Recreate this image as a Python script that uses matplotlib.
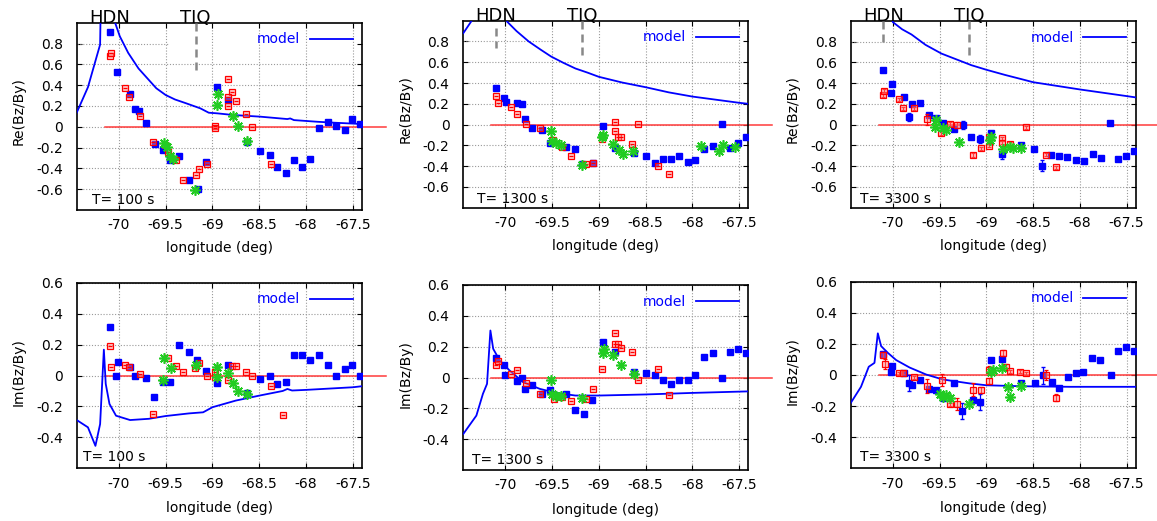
import matplotlib
matplotlib.use('Agg')
import matplotlib.pyplot as plt
from matplotlib.ticker import FuncFormatter
from matplotlib.transforms import blended_transform_factory

plt.rcParams['font.family'] = ['DejaVu Sans']
plt.rcParams['axes.unicode_minus'] = False

# ---------------- data ----------------
periods = ["T= 100 s", "T= 1300 s", "T= 3300 s"]
x_ticks = [-70, -69.5, -69, -68.5, -68, -67.5]
re_ticks = [-0.6, -0.4, -0.2, 0, 0.2, 0.4, 0.6, 0.8]
im_ticks = [-0.4, -0.2, 0, 0.2, 0.4, 0.6]
stations = ["HDN", "TIQ"]
station_lon = [-70.1, -69.18]

# Re, T = 100 s
re100_blue_lon = [-70.096, -70.018, -69.882, -69.83, -69.79, -69.71, -69.61, -69.525, -69.45, -69.36,
                  -69.25, -69.15, -69.07, -68.95, -68.83, -68.63, -68.49, -68.39, -68.31, -68.22,
                  -68.13, -68.04, -67.96, -67.86, -67.77, -67.68, -67.59, -67.51, -67.42]
re100_blue_val = [0.907, 0.531, 0.315, 0.17, 0.155, 0.039, -0.17, -0.219, -0.32, -0.283,
                  -0.515, -0.60, -0.338, 0.38, 0.257, -0.15, -0.23, -0.273, -0.386, -0.444,
                  -0.32, -0.386, -0.306, -0.01, 0.048, 0.006, -0.032, 0.071, 0.026]
re100_red_lon = [-70.096, -70.086, -69.936, -69.89, -69.775, -69.64, -69.51, -69.47, -69.39, -69.31,
                 -69.18, -69.14, -69.06, -68.97, -68.97, -68.83, -68.79, -68.83, -68.75, -68.83,
                 -68.64, -68.58, -68.37]
re100_red_val = [0.682, 0.708, 0.37, 0.29, 0.103, -0.145, -0.177, -0.24, -0.315, -0.508,
                 -0.466, -0.402, -0.354, 0.006, -0.016, 0.457, 0.338, 0.29, 0.25, 0.2,
                 0.122, 0.0, -0.354]
re100_green_lon = [-69.515, -69.49, -69.45, -69.42, -69.19, -68.94, -68.95, -68.78, -68.73, -68.63]
re100_green_val = [-0.16, -0.19, -0.28, -0.31, -0.605, 0.312, 0.21, 0.103, 0.01, -0.135]
re100_model_lon = [-70.45, -70.33, -70.2, -70.17, -70.04, -69.99, -69.9, -69.79, -69.68, -69.6, -69.5,
                   -69.4, -69.28, -69.13, -69.04, -68.95, -68.78, -68.49, -68.2, -68.17, -68.13,
                   -67.88, -67.7, -67.4]
re100_model_val = [0.135, 0.38, 0.79, 2.5, 1.0, 0.87, 0.71, 0.56, 0.45, 0.37, 0.305,
                   0.262, 0.225, 0.177, 0.135, 0.129, 0.113, 0.097, 0.074, 0.08, 0.064,
                   0.048, 0.039, 0.026]

# Re, T = 1300 s
re1300_blue_lon = [-70.096, -70.018, -69.996, -69.875, -69.82, -69.79, -69.71, -69.605, -69.527, -69.35,
                   -69.25, -69.18, -69.065, -68.95, -68.83, -68.62, -68.5, -68.4, -68.31, -68.23,
                   -68.14, -68.04, -67.97, -67.87, -67.78, -67.68, -67.6, -67.51, -67.42]
re1300_blue_val = [0.349, 0.253, 0.22, 0.211, 0.198, 0.05, -0.03, -0.053, -0.18, -0.22,
                   -0.236, -0.38, -0.368, -0.014, -0.23, -0.278, -0.30, -0.368, -0.333, -0.333,
                   -0.30, -0.358, -0.343, -0.234, -0.205, 0.005, -0.223, -0.182, -0.124]
re1300_red_lon = [-70.096, -70.08, -69.936, -69.88, -69.78, -69.634, -69.49, -69.39, -69.30, -69.135,
                  -69.06, -68.97, -68.83, -68.83, -68.79, -68.76, -68.64, -68.585, -68.37, -68.25]
re1300_red_val = [0.275, 0.21, 0.166, 0.098, 0.005, -0.037, -0.15, -0.22, -0.30, -0.38,
                  -0.368, -0.14, 0.027, -0.063, -0.124, -0.124, -0.188, 0.002, -0.397, -0.48]
re1300_green_lon = [-69.51, -69.5, -69.46, -69.40, -69.18, -68.96, -68.97, -68.85, -68.78, -68.745,
                    -68.63, -67.91, -67.71, -67.67, -67.54]
re1300_green_val = [-0.063, -0.156, -0.175, -0.198, -0.39, -0.1, -0.117, -0.188, -0.24, -0.28,
                    -0.25, -0.21, -0.25, -0.198, -0.215]
re1300_model_lon = [-70.45, -70.36, -70.16, -70.08, -69.98, -69.88, -69.75, -69.62, -69.51, -69.38,
                    -69.25, -69.12, -69.0, -68.75, -68.5, -68.25, -68.0, -67.75, -67.5, -67.4]
re1300_model_val = [0.88, 1.0, 1.6, 1.2, 0.99, 0.90, 0.80, 0.72, 0.655, 0.595,
                    0.54, 0.50, 0.46, 0.405, 0.36, 0.31, 0.27, 0.24, 0.21, 0.20]

# Re, T = 3300 s
re3300_blue_lon = [-70.1, -70.007, -70.018, -69.875, -69.83, -69.80, -69.71, -69.61, -69.54, -69.46,
                   -69.35, -69.25, -69.16, -69.07, -68.95, -68.83, -68.625, -68.49, -68.4, -68.31,
                   -68.22, -68.14, -68.04, -67.96, -67.86, -67.775, -67.68, -67.59, -67.51, -67.42]
re3300_blue_val = [0.526, 0.391, 0.308, 0.269, 0.077, 0.199, 0.212, 0.093, 0.06, 0.013,
                   -0.042, -0.003, -0.115, -0.14, -0.077, -0.285, -0.196, -0.234, -0.394, -0.29,
                   -0.298, -0.308, -0.34, -0.349, -0.282, -0.317, 0.019, -0.33, -0.298, -0.25]
re3300_blue_err = [0.015, 0.01, 0.01, 0.01, 0.04, 0.01, 0.01, 0.01, 0.01, 0.01,
                   0.01, 0.04, 0.01, 0.04, 0.01, 0.05, 0.01, 0.01, 0.05, 0.01,
                   0.01, 0.01, 0.01, 0.01, 0.01, 0.01, 0.01, 0.01, 0.01, 0.01]
re3300_red_lon = [-70.1, -70.09, -69.936, -69.89, -69.775, -69.635, -69.48, -69.39, -69.31, -69.14,
                  -69.06, -68.97, -68.97, -68.83, -68.83, -68.75, -68.58, -68.36, -68.25]
re3300_red_val = [0.285, 0.327, 0.247, 0.157, 0.157, 0.051, -0.083, 0.006, -0.003, -0.292,
                  -0.228, -0.202, -0.115, -0.131, -0.173, -0.186, -0.026, -0.29, -0.41]
re3300_red_err = [0.02, 0.02, 0.015, 0.015, 0.015, 0.05, 0.02, 0.02, 0.03, 0.02,
                  0.015, 0.015, 0.015, 0.015, 0.015, 0.015, 0.015, 0.015, 0.015]
re3300_green_lon = [-69.535, -69.55, -69.46, -69.43, -69.29, -68.965, -68.95, -68.82, -68.75, -68.71, -68.625]
re3300_green_val = [0.045, -0.02, -0.035, -0.05, -0.163, -0.147, -0.115, -0.237, -0.21, -0.228, -0.228]
re3300_model_lon = [-70.45, -70.16, -70.0, -69.9, -69.8, -69.65, -69.48, -69.32, -69.16, -69.0,
                    -68.8, -68.61, -68.5, -68.0, -67.5, -67.4]
re3300_model_val = [1.3, 2.5, 0.99, 0.92, 0.87, 0.77, 0.686, 0.63, 0.574, 0.53,
                    0.48, 0.436, 0.41, 0.34, 0.276, 0.263]

# Im, T = 100 s
im100_blue_lon = [-70.096, -70.007, -70.025, -69.88, -69.83, -69.71, -69.62, -69.525, -69.45, -69.36,
                  -69.25, -69.17, -69.07, -68.95, -68.83, -68.63, -68.49, -68.39, -68.31, -68.22,
                  -68.13, -68.04, -67.96, -67.86, -67.77, -67.68, -67.59, -67.51, -67.42]
im100_blue_val = [0.314, 0.087, 0.0, 0.058, 0.0, -0.017, -0.136, -0.043, -0.043, 0.195,
                  0.152, 0.1, 0.032, -0.05, 0.065, -0.113, -0.022, 0.0, -0.058, -0.039,
                  0.13, 0.13, 0.097, 0.13, 0.071, 0.0, 0.039, 0.071, 0.0]
im100_red_lon = [-70.096, -70.086, -69.936, -69.89, -69.775, -69.64, -69.47, -69.39, -69.31, -69.19,
                 -69.14, -69.06, -68.97, -68.97, -68.83, -68.79, -68.75, -68.64, -68.58, -68.37, -68.25]
im100_red_val = [0.188, 0.058, 0.071, 0.058, 0.011, -0.249, 0.113, 0.061, 0.022, 0.05,
                 0.08, 0.0, 0.022, -0.011, -0.032, 0.061, 0.061, 0.022, 0.0, -0.071, -0.255]
im100_green_lon = [-69.515, -69.525, -69.44, -69.18, -68.95, -68.955, -68.83, -68.78, -68.73, -68.63]
im100_green_val = [0.113, -0.032, 0.05, 0.071, 0.058, -0.011, 0.017, -0.05, -0.097, -0.119]
im100_model_lon = [-70.45, -70.33, -70.25, -70.2, -70.16, -70.14, -70.1, -70.03, -69.88, -69.68,
                   -69.5, -69.25, -69.1, -69.0, -68.75, -68.5, -68.25, -68.2, -68.15, -68.0, -67.5, -67.4]
im100_model_val = [-0.288, -0.335, -0.455, -0.314, 0.167, -0.054, -0.184, -0.26, -0.288, -0.28,
                   -0.262, -0.245, -0.238, -0.205, -0.162, -0.13, -0.1, -0.087, -0.097, -0.093, -0.076, -0.069]

# Im, T = 1300 s
im1300_blue_lon = [-70.096, -70.018, -70.0, -69.88, -69.82, -69.79, -69.71, -69.605, -69.527, -69.35,
                   -69.25, -69.155, -69.07, -68.95, -68.83, -68.62, -68.5, -68.4, -68.31, -68.23,
                   -68.14, -68.04, -67.97, -67.87, -67.78, -67.68, -67.6, -67.51, -67.42]
im1300_blue_val = [0.126, 0.082, 0.017, -0.024, -0.002, -0.074, -0.048, -0.106, -0.078, -0.11,
                   -0.21, -0.236, -0.145, 0.229, 0.165, 0.035, 0.028, 0.019, -0.013, -0.045,
                   -0.013, -0.013, 0.019, 0.132, 0.158, -0.004, 0.165, 0.182, 0.158]
im1300_red_lon = [-70.096, -70.08, -69.936, -69.88, -69.78, -69.634, -69.48, -69.39, -69.30, -69.135,
                  -69.06, -68.97, -68.83, -68.83, -68.79, -68.76, -68.64, -68.585, -68.37, -68.25]
im1300_red_val = [0.084, 0.11, 0.024, 0.05, -0.035, -0.11, -0.139, -0.128, -0.154, -0.139,
                  -0.074, 0.056, 0.288, 0.219, 0.219, 0.19, 0.165, -0.013, 0.052, -0.113]
im1300_green_lon = [-69.51, -69.5, -69.46, -69.40, -69.18, -68.96, -68.94, -68.85, -68.76, -68.62]
im1300_green_val = [-0.019, -0.11, -0.117, -0.121, -0.132, 0.158, 0.186, 0.149, 0.084, 0.024]
im1300_model_lon = [-70.45, -70.31, -70.24, -70.196, -70.16, -70.13, -70.06, -69.954, -69.81, -69.63,
                    -69.456, -69.25, -69.0, -68.5, -68.0, -67.4]
im1300_model_val = [-0.366, -0.247, -0.106, -0.041, 0.305, 0.186, 0.11, 0.045, -0.03, -0.074,
                    -0.1, -0.117, -0.117, -0.11, -0.1, -0.09]

# Im, T = 3300 s
im3300_blue_lon = [-70.1, -70.007, -70.018, -69.875, -69.83, -69.8, -69.71, -69.61, -69.54, -69.46,
                   -69.35, -69.26, -69.14, -69.07, -68.95, -68.83, -68.625, -68.48, -68.39, -68.30,
                   -68.22, -68.13, -68.04, -67.97, -67.87, -67.78, -67.67, -67.59, -67.51, -67.42]
im3300_blue_val = [0.132, 0.057, 0.02, 0.01, -0.05, -0.066, -0.033, -0.087, -0.098, -0.145,
                   -0.05, -0.231, -0.158, -0.173, 0.096, 0.1, -0.05, -0.05, -0.001, -0.044,
                   -0.081, -0.016, 0.01, 0.02, 0.111, 0.096, 0.0, 0.156, 0.177, 0.154]
im3300_blue_err = [0.01, 0.01, 0.01, 0.01, 0.05, 0.01, 0.01, 0.01, 0.01, 0.01,
                   0.01, 0.05, 0.01, 0.05, 0.01, 0.01, 0.01, 0.01, 0.055, 0.01,
                   0.01, 0.01, 0.01, 0.01, 0.01, 0.01, 0.01, 0.01, 0.01, 0.01]
im3300_red_lon = [-70.1, -70.08, -69.936, -69.89, -69.775, -69.635, -69.47, -69.39, -69.31, -69.14,
                  -69.06, -68.97, -68.97, -68.82, -68.79, -68.75, -68.64, -68.58, -68.36, -68.25]
im3300_red_val = [0.128, 0.07, 0.01, 0.016, -0.016, -0.07, -0.033, -0.188, -0.188, -0.094,
                  -0.094, -0.038, 0.031, 0.143, 0.053, 0.025, 0.02, 0.01, -0.001, -0.145]
im3300_red_err = [0.02, 0.03, 0.01, 0.01, 0.01, 0.045, 0.04, 0.01, 0.04, 0.04,
                  0.02, 0.02, 0.03, 0.02, 0.02, 0.01, 0.01, 0.01, 0.03, 0.02]
im3300_green_lon = [-69.5, -69.46, -69.43, -69.39, -69.19, -68.95, -68.93, -68.83, -68.77, -68.75, -68.625]
im3300_green_val = [-0.12, -0.14, -0.13, -0.15, -0.184, 0.02, 0.03, 0.042, -0.076, -0.14, -0.072]
im3300_model_lon = [-70.454, -70.34, -70.257, -70.196, -70.16, -70.125, -70.054, -69.964, -69.82, -69.643,
                    -69.464, -69.18, -69.0, -68.643, -68.107, -67.4]
im3300_model_val = [-0.184, -0.076, 0.053, 0.078, 0.268, 0.186, 0.143, 0.096, 0.048, 0.003,
                    -0.029, -0.054, -0.066, -0.072, -0.076, -0.076]

# ---------------- style ----------------
W, H = 1157, 521
XLIM = (-70.45, -67.4)
BLUE = '#0000ff'
RED = '#ff0000'
GREEN = '#22cc22'
# axes boxes in pixels: left, top, right, bottom
boxes = [(76.7, 22.7, 362.3, 210.0), (463.3, 20.7, 748.3, 207.7), (850.7, 21.0, 1136.0, 207.7),
         (76.7, 282.7, 362.3, 468.3), (463.3, 285.0, 748.3, 470.0), (850.7, 281.7, 1136.0, 468.3)]
tlabel_pos = [(0.052, 0.053), (0.049, 0.047), (0.032, 0.045),
              (0.023, 0.062), (0.030, 0.054), (0.032, 0.062)]

fig = plt.figure(figsize=(W / 100, H / 100), dpi=100)

panels = [
    (re100_blue_lon, re100_blue_val, None, re100_red_lon, re100_red_val, None,
     re100_green_lon, re100_green_val, re100_model_lon, re100_model_val),
    (re1300_blue_lon, re1300_blue_val, None, re1300_red_lon, re1300_red_val, None,
     re1300_green_lon, re1300_green_val, re1300_model_lon, re1300_model_val),
    (re3300_blue_lon, re3300_blue_val, re3300_blue_err, re3300_red_lon, re3300_red_val, re3300_red_err,
     re3300_green_lon, re3300_green_val, re3300_model_lon, re3300_model_val),
    (im100_blue_lon, im100_blue_val, None, im100_red_lon, im100_red_val, None,
     im100_green_lon, im100_green_val, im100_model_lon, im100_model_val),
    (im1300_blue_lon, im1300_blue_val, None, im1300_red_lon, im1300_red_val, None,
     im1300_green_lon, im1300_green_val, im1300_model_lon, im1300_model_val),
    (im3300_blue_lon, im3300_blue_val, im3300_blue_err, im3300_red_lon, im3300_red_val, im3300_red_err,
     im3300_green_lon, im3300_green_val, im3300_model_lon, im3300_model_val),
]

# station marker lines (top row): (station index, y from, y to)
station_lines = [[(1, 1.0, 0.54)],
                 [(0, 0.93, 0.735), (1, 1.0, 0.67)],
                 [(0, 1.0, 0.77), (1, 1.0, 0.67)]]

fmt = FuncFormatter(lambda v, p: '%g' % v)

for k, (bl, bv, be, rl, rv, re_, gl, gv, ml, mv) in enumerate(panels):
    l, t, r, b = boxes[k]
    ax = fig.add_axes([l / W, 1 - b / H, (r - l) / W, (b - t) / H])
    top = k < 3
    ax.set_xlim(*XLIM)
    if top:
        ax.set_ylim(-0.8, 1.0)
        ax.set_yticks(re_ticks)
        ax.set_ylabel('Re(Bz/By)', fontsize=10)
    else:
        ax.set_ylim(-0.6, 0.6)
        ax.set_yticks(im_ticks)
        ax.set_ylabel('Im(Bz/By)', fontsize=10)
    ax.set_xticks(x_ticks)
    ax.xaxis.set_major_formatter(fmt)
    ax.yaxis.set_major_formatter(fmt)
    ax.set_xlabel('longitude (deg)', fontsize=10)
    ax.xaxis.label.set_va('center')
    ax.yaxis.label.set_va('center')
    ax.xaxis.set_label_coords(0.5, -0.203 if top else -0.214)
    ax.yaxis.set_label_coords(-0.204, 0.53 if top else 0.52)

    ax.tick_params(direction='in', top=True, right=True, length=3.5, width=0.8, labelsize=10)
    ax.tick_params(axis='x', pad=6)
    ax.tick_params(axis='y', pad=10)
    for s in ax.spines.values():
        s.set_linewidth(1.2)

    ax.set_axisbelow(True)
    ax.grid(True, color='#999999', linewidth=0.8, linestyle=(0, (1, 1.6)))
    if top:
        # the 0.8 grid line only runs up to -69.5
        for tk, loc in zip(ax.yaxis.get_major_ticks(), re_ticks):
            if abs(loc - 0.8) < 1e-6:
                tk.gridline.set_visible(False)
        ax.hlines(0.8, XLIM[0], -69.46, colors='#999999', linewidth=0.8, linestyles=[(0, (1, 1.6))])

    # zero line
    ax.plot([-70.15, -67.15], [0, 0], color='#ff3a3a', linewidth=1.1, clip_on=False, zorder=2)

    # model
    ax.plot(ml, mv, color=BLUE, linewidth=1.3, label='model', zorder=3)

    # blue
    if be is None:
        ax.plot(bl, bv, ls='none', marker='s', ms=4.6, color=BLUE, zorder=4)
    else:
        ax.errorbar(bl, bv, yerr=be, fmt='s', ms=4.6, color=BLUE, ecolor=BLUE,
                    elinewidth=0.9, capsize=1.5, zorder=4)
    # red
    if re_ is None:
        ax.plot(rl, rv, ls='none', marker='s', ms=4.2, mfc=(1, 0.55, 0.55, 0.45), mec=RED,
                mew=0.9, zorder=5)
        ax.plot(rl, rv, ls='none', marker='_', ms=2.4, mew=0.9, color=RED, zorder=5)
    else:
        ax.errorbar(rl, rv, yerr=re_, fmt='s', ms=4.2, mfc=(1, 0.55, 0.55, 0.45), mec=RED,
                    mew=0.9, ecolor=RED, elinewidth=0.9, capsize=1.5, zorder=5)
    # green
    ax.plot(gl, gv, ls='none', marker=(8, 2, 0), ms=7.5, mew=1.2, color=GREEN, zorder=6)

    leg = ax.legend(loc='upper right', frameon=False, fontsize=10, markerfirst=False,
                    handlelength=3.1, handletextpad=0.7, borderaxespad=0.3)
    for txt in leg.get_texts():
        txt.set_color(BLUE)

    tx, ty = tlabel_pos[k]
    ax.text(tx, ty, periods[k % 3], transform=ax.transAxes, fontsize=10,
            ha='left', va='center', zorder=7)

    if top:
        trans = blended_transform_factory(ax.transData, ax.transAxes)
        for si, y0, y1 in station_lines[k]:
            ax.plot([station_lon[si], station_lon[si]], [y0, y1], color='#888888',
                    linewidth=1.8, linestyle=(0, (3.2, 2.0)), zorder=3)
        for name, lon in zip(stations, station_lon):
            ax.text(lon, 1.0, name, transform=trans, fontsize=13, ha='center',
                    va='baseline', clip_on=False, zorder=8)

fig.savefig('out.png', dpi=100)
